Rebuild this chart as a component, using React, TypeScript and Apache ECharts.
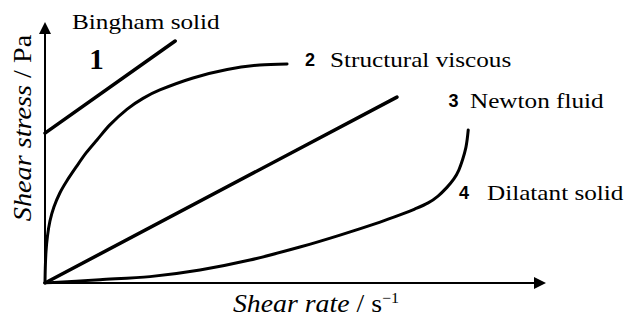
import React, { useEffect, useRef } from "react";
import * as echarts from "echarts";

// Values (arbitrary units, axes 0..100)
const binghamSolid: number[][] = [
  [0, 58.8],
  [26.3, 94.9],
];
const structuralViscous: number[][] = [
  [0, 0],
  [0.06, 5.9],
  [0.2, 12.2],
  [0.5, 18.4],
  [1.0, 24.3],
  [1.8, 29.8],
  [3.0, 35.3],
  [4.4, 40.0],
  [6.3, 45.5],
  [8.3, 51.0],
  [10.5, 56.1],
  [13.1, 62.0],
  [16.6, 68.2],
  [19.8, 72.4],
  [23.2, 75.7],
  [29.9, 80.4],
  [36.8, 83.7],
  [43.4, 85.5],
  [48.9, 85.9],
];
const newtonFluid: number[][] = [
  [0, 0],
  [71.1, 72.9],
];
const dilatantSolid: number[][] = [
  [0, 0],
  [11.1, 1.3],
  [21.2, 2.5],
  [31.3, 5.1],
  [41.4, 9.0],
  [51.5, 14.1],
  [59.6, 18.8],
  [67.7, 23.9],
  [71.7, 26.7],
  [74.7, 29.0],
  [77.4, 31.4],
  [79.4, 34.1],
  [81.2, 37.5],
  [82.6, 40.8],
  [83.6, 44.3],
  [84.4, 48.6],
  [85.0, 52.9],
  [85.3, 56.5],
  [85.5, 60.0],
];

const curveNumbers = ["1", "2", "3", "4"];
const curveNames = ["Bingham solid", "Structural viscous", "Newton fluid", "Dilatant solid"];
const xTitle = ["Shear rate", " / s", "−1"];
const yTitle = ["Shear stress", " / Pa"];

const SERIF = "'Liberation Serif', 'Times New Roman', serif";
const SANS = "'Liberation Sans', Arial, sans-serif";

export default function App() {
  const ref = useRef<HTMLDivElement>(null);

  useEffect(() => {
    document.body.style.margin = "0";
    if (!ref.current) return;
    const chart = echarts.init(ref.current, undefined, { renderer: "svg" });

    const axisCommon = {
      type: "value" as const,
      min: 0,
      max: 100,
      splitLine: { show: false },
      axisTick: { show: false },
      axisLabel: { show: false },
      axisLine: {
        show: true,
        symbol: ["none", "triangle"],
        symbolSize: [12, 12],
        lineStyle: { color: "#000", width: 2 },
      },
    };

    const lineSeries = (data: number[][], width: number, smooth: boolean) => ({
      type: "line" as const,
      data,
      showSymbol: false,
      smooth: smooth ? 0.3 : false,
      lineStyle: { color: "#000", width, cap: "round" as const, join: "round" as const },
      itemStyle: { color: "#000" },
      silent: true,
    });

    const label = (text: string, x: number, y: number, size: number, family: string, align: string, extra: any = {}) => ({
      type: "text",
      x,
      y,
      silent: true,
      ...extra,
      style: {
        text,
        fontSize: size,
        fontFamily: family,
        fill: "#000",
        align,
        verticalAlign: "middle",
        ...(extra.style || {}),
      },
    });

    const nameOpts = { scaleX: 1.2 };
    const numOpts = { style: { fontWeight: "bold" } };

    chart.setOption({
      animation: false,
      backgroundColor: "#fff",
      grid: { left: 45, right: 97, top: 28, bottom: 37 },
      xAxis: axisCommon,
      yAxis: axisCommon,
      series: [
        lineSeries(binghamSolid, 3.5, false),
        lineSeries(structuralViscous, 3, true),
        lineSeries(newtonFluid, 3.5, false),
        lineSeries(dilatantSolid, 3, true),
      ],
      graphic: [
        label(curveNames[0], 72, 22, 21, SERIF, "left", nameOpts),
        label(curveNumbers[0], 96.5, 58.5, 29, SERIF, "center", { style: { fontWeight: "bold" } }),
        label(curveNumbers[1], 310, 60, 18, SANS, "center", numOpts),
        label(curveNames[1], 330, 60, 21, SERIF, "left", nameOpts),
        label(curveNumbers[2], 453.5, 101, 18, SANS, "center", numOpts),
        label(curveNames[2], 470, 101, 21, SERIF, "left", nameOpts),
        label(curveNumbers[3], 464, 193, 18, SANS, "center", numOpts),
        label(curveNames[3], 487, 193, 21, SERIF, "left", nameOpts),
        {
          type: "text",
          x: 23,
          y: 128,
          rotation: Math.PI / 2,
          scaleX: 1.13,
          silent: true,
          style: {
            text: `{i|${yTitle[0]}}${yTitle[1]}`,
            fontSize: 25,
            fontFamily: SERIF,
            fill: "#000",
            align: "center",
            verticalAlign: "middle",
            rich: {
              i: { fontSize: 25, fontFamily: SERIF, fontStyle: "italic", fill: "#000" },
            },
          },
        },
        {
          type: "text",
          x: 316,
          y: 303,
          scaleX: 1.07,
          silent: true,
          style: {
            text: `{i|${xTitle[0]}}${xTitle[1]}{sup|${xTitle[2]}}`,
            fontSize: 26,
            fontFamily: SERIF,
            fill: "#000",
            align: "center",
            verticalAlign: "middle",
            rich: {
              i: { fontSize: 26, fontFamily: SERIF, fontStyle: "italic", fill: "#000" },
              sup: { fontSize: 15, fontFamily: SERIF, fill: "#000", verticalAlign: "top" },
            },
          },
        },
      ],
    });

    return () => chart.dispose();
  }, []);

  return <div ref={ref} style={{ width: 637, height: 320 }} />;
}
